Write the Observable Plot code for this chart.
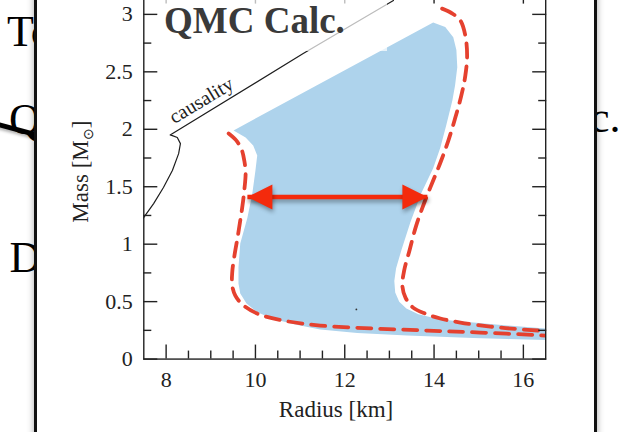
<!DOCTYPE html>
<html>
<head>
<meta charset="utf-8">
<script src="https://cdn.jsdelivr.net/npm/d3@7"></script>
<script src="https://cdn.jsdelivr.net/npm/@observablehq/plot@0.6"></script>
<style>
  html, body { margin: 0; padding: 0; width: 625px; height: 432px; overflow: hidden; background: #fff; }
  body { position: relative; }
  .slide { position: absolute; font-family: "Liberation Serif", "Times New Roman", serif; font-size: 44px; line-height: 1; color: #000; white-space: nowrap; }
  #stroke { position: absolute; left: -2px; top: 122px; width: 42px; height: 5px; background: #000; transform: rotate(15deg); transform-origin: 0 50%; box-shadow: 0 2px 3px rgba(0,0,0,0.3); }
  #panel { position: absolute; left: 34px; top: -10px; width: 557px; height: 460px; background: #fff; border-left: 3px solid #111; border-right: 3px solid #111; box-shadow: 0 0 7px rgba(0,0,0,0.35); }
  #chart { position: absolute; left: 0; top: -23px; }
  #tag { position: absolute; left: 160px; top: -5px; width: 227px; height: 56px; background: rgba(255,255,255,0.7); }
  #tag span { position: absolute; left: 4px; top: 7px; font-family: "Liberation Serif", "Times New Roman", serif; font-weight: bold; font-size: 37px; line-height: 1; color: #3a3a3a; white-space: nowrap; }
  [aria-description="arrow"] { filter: drop-shadow(1px 3px 2px rgba(0,0,0,0.35)); }
</style>
</head>
<body>
<div class="slide" style="left:7px;top:10px">To</div>
<div class="slide" style="left:9px;top:98px">Q</div>
<div id="stroke"></div>
<div class="slide" style="left:9.5px;top:236px">D</div>
<div class="slide" style="left:590px;top:96px">c.</div>
<div id="panel"></div>
<div id="chart"></div>
<div id="tag"><span>QMC Calc.</span></div>
<script>
// Axis ticks
const xTicks = [8, 10, 12, 14, 16];
const xMinorTicks = [8.5, 9, 9.5, 10.5, 11, 11.5, 12.5, 13, 13.5, 14.5, 15, 15.5];
const yTicks = [0, 0.5, 1, 1.5, 2, 2.5, 3];
const yMinorTicks = [0.25, 0.75, 1.25, 1.75, 2.25, 2.75];

// QMC mass-radius band (outline, clockwise from the top-left corner)
const bandRadius = [9.51, 13.98, 14.25, 14.43, 14.50, 14.52, 14.47, 14.41, 14.27, 14.14, 13.98, 13.71, 13.47, 13.27, 13.15, 13.11, 13.13, 13.22, 13.38, 13.65, 14.14, 14.88, 15.64, 16.49, 16.60,
                    16.60, 16.49, 15.64, 14.88, 13.40, 12.28, 11.45, 10.89, 10.38, 10.02, 9.80, 9.66, 9.62, 9.62, 9.66, 9.82, 9.93, 10.00, 10.04, 9.95, 9.78];
const bandMass = [1.99, 2.93, 2.89, 2.80, 2.69, 2.54, 2.38, 2.25, 2.03, 1.84, 1.66, 1.44, 1.19, 0.95, 0.79, 0.68, 0.58, 0.50, 0.44, 0.39, 0.344, 0.318, 0.292, 0.266, 0.263,
                  0.165, 0.165, 0.174, 0.183, 0.205, 0.227, 0.257, 0.300, 0.352, 0.413, 0.483, 0.570, 0.657, 0.796, 1.005, 1.231, 1.440, 1.641, 1.771, 1.858, 1.928];

// Dashed envelope: soft branch (left) and stiff branch (right)
const softRadius = [9.40, 9.57, 9.69, 9.75, 9.78, 9.75, 9.71, 9.66, 9.60, 9.53, 9.48, 9.48, 9.55, 9.71, 10.04, 10.63, 11.45, 12.64, 13.85, 15.03, 16.49, 16.60];
const softMass = [1.963, 1.903, 1.824, 1.728, 1.624, 1.467, 1.336, 1.206, 1.058, 0.901, 0.753, 0.640, 0.553, 0.474, 0.396, 0.335, 0.292, 0.266, 0.248, 0.231, 0.205, 0.202];
const stiffRadius = [14.18, 14.41, 14.59, 14.70, 14.74, 14.70, 14.61, 14.47, 14.32, 14.16, 13.98, 13.80, 13.60, 13.45, 13.33, 13.29, 13.36, 13.53, 13.80, 14.14, 14.59, 15.26, 15.86, 16.49, 16.60];
const stiffMass = [3.050, 3.007, 2.946, 2.816, 2.641, 2.467, 2.293, 2.093, 1.902, 1.728, 1.554, 1.380, 1.162, 0.945, 0.770, 0.640, 0.535, 0.448, 0.396, 0.353, 0.318, 0.283, 0.261, 0.244, 0.239];

// Causality limit
const causalityRadius = [7.43, 7.50, 7.72, 7.94, 8.14, 8.28, 8.32, 8.25, 8.14, 8.09, 11.07, 13.09];
const causalityMass = [1.197, 1.234, 1.353, 1.493, 1.641, 1.788, 1.875, 1.928, 1.945, 1.950, 2.659, 3.120];
const causalityLabel = [{r: 8.79, m: 2.251, text: "causality"}];

// Radius spread at fixed mass
const spread = [{from: 9.82, to: 13.85, m: 1.41}];
const specks = [{r: 12.26, m: 0.432}];

const band = bandRadius.map((r, i) => ({r, m: bandMass[i]}));
const soft = softRadius.map((r, i) => ({r, m: softMass[i]}));
const stiff = stiffRadius.map((r, i) => ({r, m: stiffMass[i]}));
const causality = causalityRadius.map((r, i) => ({r, m: causalityMass[i]}));

const headRight = {draw(ctx, size) { const s = Math.sqrt(size / Math.PI); ctx.moveTo(0, 0); ctx.lineTo(-2 * s, -s); ctx.lineTo(-2 * s, s); ctx.closePath(); }};
const headLeft = {draw(ctx, size) { const s = Math.sqrt(size / Math.PI); ctx.moveTo(0, 0); ctx.lineTo(2 * s, -s); ctx.lineTo(2 * s, s); ctx.closePath(); }};

const ink = "#222";
const red = "#e5412f";
const arrowRed = "#f42a0c";
const serif = '"Liberation Serif", "Times New Roman", serif';
const tickBlank = () => "";

const fig = Plot.plot({
  width: 625,
  height: 455,
  marginLeft: 143.3,
  marginRight: 79.8,
  marginTop: 11.6,
  marginBottom: 73.42,
  x: {domain: [7.5, 16.5]},
  y: {domain: [0, 3.22]},
  style: {fontFamily: serif, background: "transparent", color: ink, overflow: "visible"},
  marks: [
    Plot.line(band, {x: "r", y: "m", fill: "#aed3ec", stroke: "none", clip: true}),
    Plot.line(causality, {x: "r", y: "m", stroke: "#1e1e1e", strokeWidth: 1.2, clip: true}),
    Plot.line(soft, {x: "r", y: "m", stroke: red, strokeWidth: 3.8, strokeDasharray: "14,9", curve: "catmull-rom", clip: true}),
    Plot.line(stiff, {x: "r", y: "m", stroke: red, strokeWidth: 3.8, strokeDasharray: "14,9", curve: "catmull-rom", clip: true}),
    Plot.dot(specks, {x: "r", y: "m", r: 0.9, fill: "#333", stroke: "none"}),
    Plot.text(causalityLabel, {x: "r", y: "m", text: "text", rotate: -31, fontSize: 20, fill: ink}),
    Plot.link(spread, {x1: "from", x2: "to", y1: "m", y2: "m", stroke: arrowRed, strokeWidth: 4.5, ariaDescription: "arrow"}),
    Plot.dot(spread, {x: "from", y: "m", symbol: headLeft, r: 12.5, fill: arrowRed, stroke: "none", ariaDescription: "arrow"}),
    Plot.dot(spread, {x: "to", y: "m", symbol: headRight, r: 12.5, fill: arrowRed, stroke: "none", ariaDescription: "arrow"}),
    Plot.frame({stroke: ink, strokeWidth: 1.4}),
    // inward ticks on all four sides
    Plot.axisX(xTicks, {anchor: "bottom", tickSize: 14, dy: -14, tickFormat: tickBlank, label: null, stroke: ink, strokeWidth: 1.4}),
    Plot.axisX(xMinorTicks, {anchor: "bottom", tickSize: 8, dy: -8, tickFormat: tickBlank, label: null, stroke: ink, strokeWidth: 1.4}),
    Plot.axisX(xTicks, {anchor: "top", tickSize: 14, dy: 14, tickFormat: tickBlank, label: null, stroke: ink, strokeWidth: 1.4}),
    Plot.axisX(xMinorTicks, {anchor: "top", tickSize: 8, dy: 8, tickFormat: tickBlank, label: null, stroke: ink, strokeWidth: 1.4}),
    Plot.axisY(yTicks, {anchor: "left", tickSize: 14, dx: 14, tickFormat: tickBlank, label: null, stroke: ink, strokeWidth: 1.4}),
    Plot.axisY(yMinorTicks, {anchor: "left", tickSize: 8, dx: 8, tickFormat: tickBlank, label: null, stroke: ink, strokeWidth: 1.4}),
    Plot.axisY(yTicks, {anchor: "right", tickSize: 14, dx: -14, tickFormat: tickBlank, label: null, stroke: ink, strokeWidth: 1.4}),
    Plot.axisY(yMinorTicks, {anchor: "right", tickSize: 8, dx: -8, tickFormat: tickBlank, label: null, stroke: ink, strokeWidth: 1.4}),
    // tick labels
    Plot.axisX(xTicks, {anchor: "bottom", tickSize: 0, tickPadding: 12, fontSize: 22, fill: ink, label: null, tickFormat: d => `${d}`}),
    Plot.axisY(yTicks, {anchor: "left", tickSize: 0, tickPadding: 11, fontSize: 22, fill: ink, label: null, tickFormat: d => `${d}`}),
    Plot.text(["Radius [km]"], {frameAnchor: "bottom", text: d => d, dx: -8.75, dy: 51, lineAnchor: "middle", fontSize: 23, fill: ink})
  ]
});

// y-axis title with a subscript solar symbol
const frameMid = 11.6 + (455 - 11.6 - 73.42) / 2;
const ylab = d3.select(fig).append("text")
  .attr("transform", `translate(${143.3 - 55},${frameMid - 2}) rotate(-90)`)
  .attr("text-anchor", "middle")
  .attr("font-family", serif)
  .attr("font-size", 23)
  .attr("fill", ink);
ylab.append("tspan").text("Mass [M");
ylab.append("tspan").attr("font-size", 14).attr("dy", 5).text("⊙");
ylab.append("tspan").attr("dy", -5).text("]");

document.getElementById("chart").append(fig);
</script>
</body>
</html>
